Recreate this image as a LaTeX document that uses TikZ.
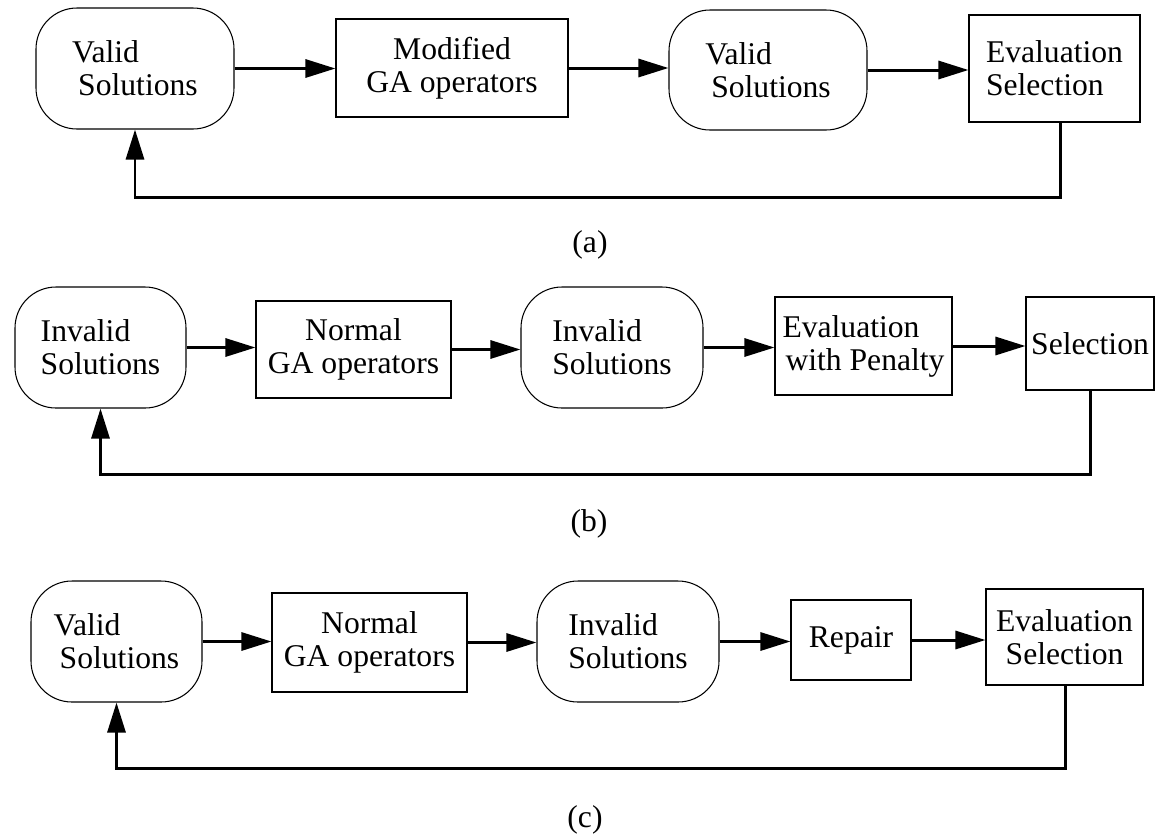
\documentclass[tikz,border=0pt]{standalone}
\usepackage{fontspec}
\setmainfont{Liberation Serif}
\usetikzlibrary{arrows.meta}

\begin{document}
\begin{tikzpicture}
[x=0.02cm,y=-0.02cm,
 every node/.style={draw,line width=0.6pt,inner sep=0pt,font=\fontsize{18}{18.8}\selectfont},
 rnd/.style={rounded corners=0.82cm,align=left},
 box/.style={align=center},
 lbl/.style={draw=none},
 arr/.style={line width=1.7pt,-{Triangle[length=0.6cm,width=0.36cm]}}]

  \useasboundingbox (0,0) rectangle (1158,836);

  % (a)
  \node[rnd,minimum width=198*0.02cm,minimum height=121*0.02cm] (a1) at (135,68.5) {Valid\\\hspace*{0.12cm}Solutions};
  \node[box,minimum width=232*0.02cm,minimum height=98*0.02cm] (a2) at (452,68) {Modified\\GA operators};
  \node[rnd,minimum width=198*0.02cm,minimum height=120*0.02cm] (a3) at (768,70) {Valid\\\hspace*{0.12cm}Solutions};
  \node[box,align=left,minimum width=171*0.02cm,minimum height=107*0.02cm] (a4) at (1054.5,68.5) {Evaluation\\Selection};
  \coordinate (ra) at (1060,197);
  \node[lbl] (la) at (590,245) {(a)};

  % (b)
  \node[rnd,minimum width=171*0.02cm,minimum height=121*0.02cm] (b1) at (100.5,347.5) {Invalid\\Solutions};
  \node[box,minimum width=195*0.02cm,minimum height=97*0.02cm] (b2) at (353.5,349.5) {Normal\\GA operators};
  \node[rnd,minimum width=182*0.02cm,minimum height=121*0.02cm] (b3) at (612,347.5) {Invalid\\Solutions};
  \node[box,align=left,minimum width=177*0.02cm,minimum height=98*0.02cm] (b4) at (863.5,346) {Evaluation\\\hspace*{0.06cm}with Penalty};
  \node[box,minimum width=128*0.02cm,minimum height=93*0.02cm] (b5) at (1090,343.5) {Selection};
  \coordinate (rb) at (1090,474.5);
  \node[lbl] (lb) at (589,524) {(b)};

  % (c)
  \node[rnd,minimum width=171*0.02cm,minimum height=121*0.02cm] (c1) at (116.5,641.5) {Valid\\\hspace*{0.12cm}Solutions};
  \node[box,minimum width=195*0.02cm,minimum height=99*0.02cm] (c2) at (369.5,642.5) {Normal\\GA operators};
  \node[rnd,minimum width=182*0.02cm,minimum height=121*0.02cm] (c3) at (628,641.5) {Invalid\\Solutions};
  \node[box,minimum width=120*0.02cm,minimum height=80*0.02cm] (c4) at (851,640) {Repair};
  \node[box,minimum width=157*0.02cm,minimum height=96*0.02cm] (c5) at (1064.5,637) {Evaluation\\Selection};
  \coordinate (rc) at (1065,768);
  \node[lbl] (lc) at (585,820) {(c)};

  \foreach \from/\to in {a1/a2, a2/a3, a3/a4}
    \draw[arr] (\from.east) -- (\from.east -| \to.west);
  \foreach \from/\to in {b1/b2, b2/b3, b3/b4, b4/b5}
    \draw[arr] (\from.east) -- (\from.east -| \to.west);
  \foreach \from/\to in {c1/c2, c2/c3, c3/c4, c4/c5}
    \draw[arr] (\from.east) -- (\from.east -| \to.west);

  % feedback loops
  \draw[arr] (ra |- a4.south) |- (a1.south |- ra) -- (a1.south);
  \draw[arr] (rb |- b5.south) |- (b1.south |- rb) -- (b1.south);
  \draw[arr] (rc |- c5.south) |- (c1.south |- rc) -- (c1.south);

\end{tikzpicture}
\end{document}
